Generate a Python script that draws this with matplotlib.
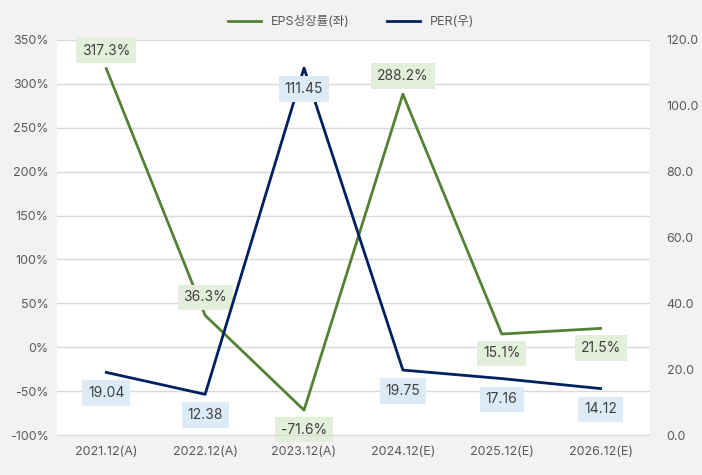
import matplotlib.pyplot as plt
import matplotlib.ticker as mticker

plt.rcParams['font.family'] = ['Inter', 'Noto Sans CJK KR', 'DejaVu Sans']

categories = ['2021.12(A)', '2022.12(A)', '2023.12(A)', '2024.12(E)', '2025.12(E)', '2026.12(E)']
eps_growth = [317.3, 36.3, -71.6, 288.2, 15.1, 21.5]
per = [19.04, 12.38, 111.45, 19.75, 17.16, 14.12]
eps_label_above = [True, True, False, True, False, False]

green = '#548235'
navy = '#002060'
text_col = '#595959'

fig = plt.figure(figsize=(7.02, 4.75), dpi=100, facecolor='#f2f2f2')
ax = fig.add_axes([0.081, 0.084, 0.845, 0.832])
ax.set_facecolor('white')
ax2 = ax.twinx()

x = list(range(len(categories)))
l1, = ax.plot(x, eps_growth, color=green, lw=2, label='EPS성장률(좌)')
l2, = ax2.plot(x, per, color=navy, lw=2, label='PER(우)')

ax.set_xlim(-0.5, len(categories) - 0.5)
ax.set_ylim(-100, 350)
ax.set_yticks(range(-100, 351, 50))
ax.yaxis.set_major_formatter(mticker.FuncFormatter(lambda v, p: f'{v:.0f}%'))
ax2.set_ylim(0, 120)
ax2.set_yticks(range(0, 121, 20))
ax2.yaxis.set_major_formatter(mticker.FuncFormatter(lambda v, p: f'{v:.1f}'))

ax.grid(axis='y', color='#d9d9d9', lw=1)
ax.set_axisbelow(True)
ax.set_xticks(x)
ax.set_xticklabels(categories)

for a in (ax, ax2):
    for s in ['top', 'left', 'right']:
        a.spines[s].set_visible(False)
    a.spines['bottom'].set_color('#d9d9d9')
    a.tick_params(length=0, labelsize=9, labelcolor=text_col)
ax.tick_params(axis='x', pad=8)
ax.tick_params(axis='y', pad=6)
ax2.tick_params(axis='y', pad=12)

for xi, v, up in zip(x, eps_growth, eps_label_above):
    off = 13 if up else -14
    ax.annotate(f'{v:.1f}%', (xi, v), xytext=(0, off), textcoords='offset points',
                ha='center', va='center', fontsize=10, color='#404040', zorder=5,
                bbox=dict(boxstyle='square,pad=0.42', fc='#e2efda', ec='none'))

for xi, v in zip(x, per):
    ax2.annotate(f'{v:.2f}', (xi, v), xytext=(0, -15), textcoords='offset points',
                 ha='center', va='center', fontsize=10, color='#404040', zorder=5,
                 bbox=dict(boxstyle='square,pad=0.42', fc='#ddebf7', ec='none'))

fig.legend(handles=[l1, l2], loc='upper center', bbox_to_anchor=(0.5, 0.99), ncol=2,
           frameon=False, fontsize=9, labelcolor=text_col, handlelength=2.6,
           columnspacing=3)

plt.savefig('out.png', dpi=100, facecolor=fig.get_facecolor())
